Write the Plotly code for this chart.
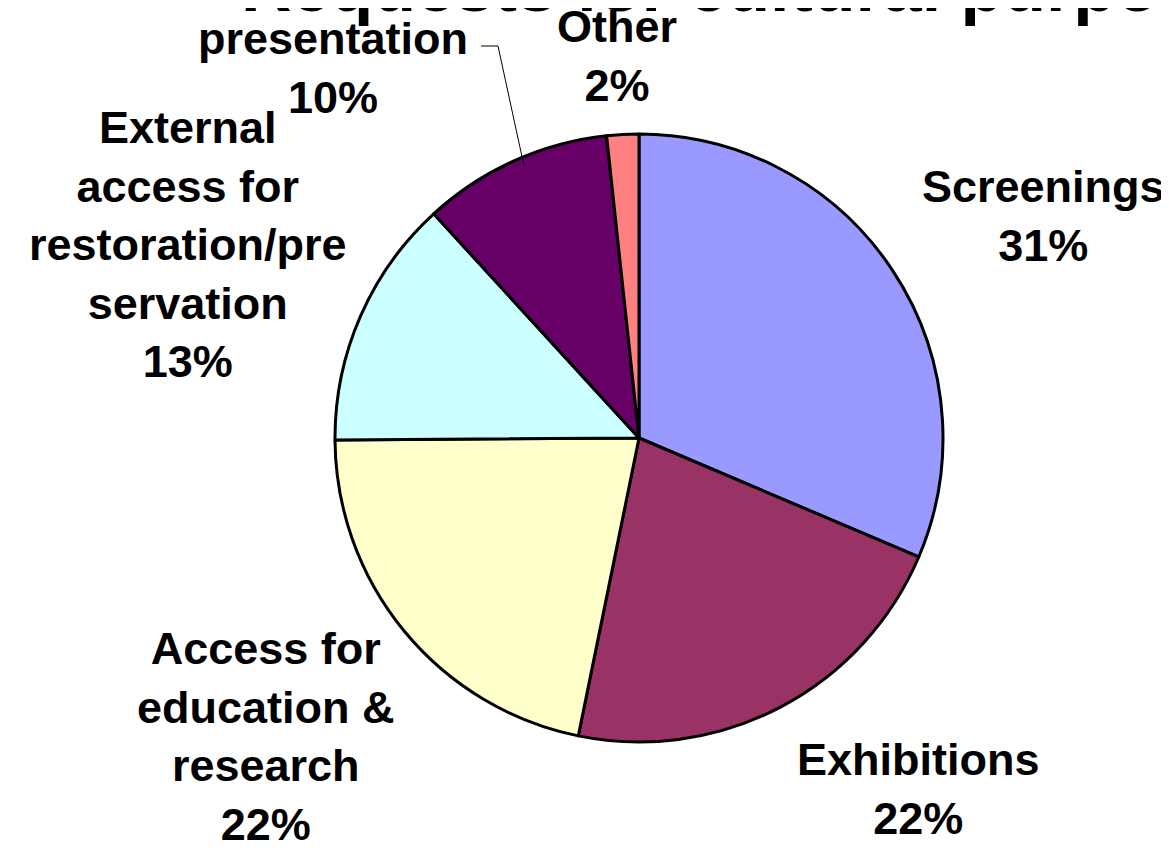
import plotly.graph_objects as go

W, H = 1169, 855

# ---- data ----
categories = ["Screenings", "Exhibitions", "Access for education & research",
              "External access for restoration/preservation", "presentation", "Other"]
label_lines = ["Screenings", "Exhibitions", "Access for<br>education &<br>research",
               "External<br>access for<br>restoration/pre<br>servation", "presentation", "Other"]
values = [31.4, 21.8, 21.7, 13.3, 10.1, 1.7]
colors = ["#9999FF", "#993366", "#FFFFCC", "#CCFFFF", "#660066", "#FF8080"]
title_text = "Requests for cultural purposes"

# label centres in pixels (layout only)
label_pos = [(1035, 208), (910, 781), (258, 728), (180, 236), (325, 60), (609, 48)]

FONT = "Liberation Sans, Arial, sans-serif"

# pie placement (pixels), compensated for plotly's internal offset
cx, cy, r = 631, 430, 304

fig = go.Figure(go.Pie(
    labels=categories,
    values=values,
    sort=False,
    direction="clockwise",
    rotation=0,
    marker=dict(colors=colors, line=dict(color="black", width=3)),
    textinfo="none",
    hoverinfo="label+percent",
    showlegend=False,
    domain=dict(x=[(cx - r) / W, (cx + r) / W], y=[1 - (cy + r) / H, 1 - (cy - r) / H]),
))

total = sum(values)
annotations = []
for lab, v, (px, py) in zip(label_lines, values, label_pos):
    pct = round(v / total * 100)
    annotations.append(dict(
        text=f"<b>{lab}<br>{pct}%</b>", x=px / W, y=1 - py / H,
        xref="paper", yref="paper", xanchor="center", yanchor="middle",
        showarrow=False, align="center",
        font=dict(family=FONT, size=45, color="black"),
    ))

annotations.append(dict(
    text=f"<b>{title_text}</b>", x=231 / W, y=1 + 21 / H,
    xref="paper", yref="paper", xanchor="left", yanchor="middle",
    showarrow=False, font=dict(family=FONT, size=70, color="black"),
))

# leader line for the small 'presentation' label
pts = [(473, 38), (490, 38), (516, 158)]
path = "M " + " L ".join(f"{x / W},{1 - y / H}" for x, y in pts)
fig.update_layout(
    width=W, height=H,
    margin=dict(l=0, r=0, t=0, b=0),
    paper_bgcolor="white", plot_bgcolor="white",
    annotations=annotations,
    shapes=[dict(type="path", path=path, xref="paper", yref="paper",
                 line=dict(color="black", width=1))],
)

fig.write_html("out.html")
